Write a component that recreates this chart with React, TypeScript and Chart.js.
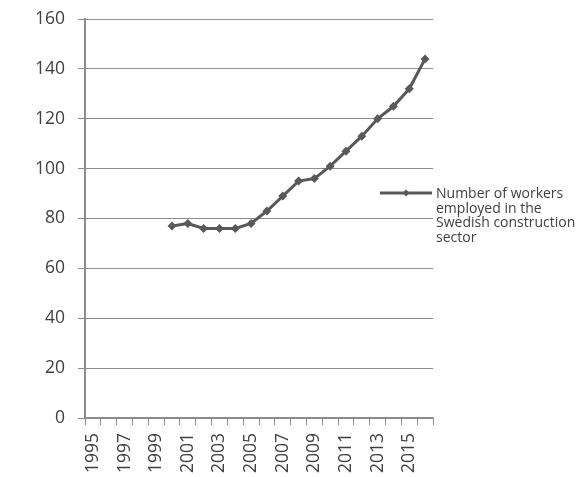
import React, { useEffect, useRef } from "react";
import { Chart, registerables } from "chart.js";

Chart.register(...registerables);

const years: string[] = [
  "1995", "1996", "1997", "1998", "1999", "2000", "2001", "2002", "2003", "2004", "2005",
  "2006", "2007", "2008", "2009", "2010", "2011", "2012", "2013", "2014", "2015", "2016",
];
const workers: (number | null)[] = [
  null, null, null, null, null, 77, 78, 76, 76, 76, 78,
  83, 89, 95, 96, 101, 107, 113, 120, 125, 132, 144,
];
const seriesLabel = "Number of workers employed in the Swedish construction sector";
const legendLines: string[] = ["Number of workers", "employed in the", "Swedish construction", "sector"];

const LINE = "#595959";
const TEXT = "#404040";
const GRID = "#8c8c8c";

const legendPlugin = {
  id: "sideLegend",
  afterDraw(chart: any) {
    const ctx = chart.ctx;
    const y0 = 193;
    ctx.save();
    ctx.strokeStyle = LINE;
    ctx.lineWidth = 3;
    ctx.beginPath();
    ctx.moveTo(380, y0);
    ctx.lineTo(432, y0);
    ctx.stroke();
    ctx.fillStyle = LINE;
    ctx.beginPath();
    const r = 3.5;
    ctx.moveTo(406, y0 - r);
    ctx.lineTo(406 + r, y0);
    ctx.lineTo(406, y0 + r);
    ctx.lineTo(406 - r, y0);
    ctx.closePath();
    ctx.fill();
    ctx.fillStyle = TEXT;
    ctx.font = "14px 'Open Sans'";
    ctx.textAlign = "left";
    ctx.textBaseline = "middle";
    legendLines.forEach((l, i) => {
      ctx.fillText(l, 436, y0 + 1 + i * 14.7);
    });
    ctx.restore();
  },
};

export default function App() {
  const ref = useRef<HTMLCanvasElement>(null);
  useEffect(() => {
    if (!ref.current) return;
    const chart = new Chart(ref.current, {
      type: "line",
      data: {
        labels: years,
        datasets: [
          {
            label: seriesLabel,
            data: workers,
            borderColor: LINE,
            backgroundColor: LINE,
            borderWidth: 3,
            pointStyle: "rectRot",
            pointRadius: 4.5,
            pointBackgroundColor: LINE,
            pointBorderColor: LINE,
            pointBorderWidth: 0,
            tension: 0,
            spanGaps: false,
          },
        ],
      },
      options: {
        responsive: false,
        animation: false,
        devicePixelRatio: 1,
        layout: { padding: { top: 19, right: 150, left: 0, bottom: 0 } },
        plugins: {
          legend: { display: false },
          tooltip: { enabled: false },
        },
        scales: {
          x: {
            type: "category",
            offset: true,
            grid: {
              display: true,
              offset: true,
              drawOnChartArea: false,
              drawTicks: true,
              tickLength: 7,
              color: GRID,
              lineWidth: 1,
            },
            border: { display: true, color: GRID, width: 1.5 },
            ticks: {
              autoSkip: false,
              minRotation: 90,
              maxRotation: 90,
              padding: 8,
              color: TEXT,
              font: { family: "'Open Sans'", size: 17.5 },
              callback: (_v: any, i: number) => (i % 2 === 0 ? years[i] : ""),
            },
            afterFit: (s: any) => {
              s.height = 59;
              s.paddingLeft = 0;
              s.paddingRight = 0;
            },
          },
          y: {
            min: 0,
            max: 160,
            ticks: {
              stepSize: 20,
              padding: 13,
              color: TEXT,
              font: { family: "'Open Sans'", size: 17.5 },
            },
            grid: {
              color: GRID,
              lineWidth: 1,
              drawTicks: true,
              tickLength: 7,
            },
            border: { display: true, color: GRID, width: 2 },
            afterFit: (s: any) => {
              s.width = 85;
              s.paddingTop = 0;
              s.paddingBottom = 0;
            },
          },
        },
      },
      plugins: [legendPlugin],
    });
    return () => chart.destroy();
  }, []);
  return (
    <div style={{ position: "fixed", left: 0, top: 0, width: 583, height: 477, background: "#fff" }}>
      <canvas ref={ref} width={583} height={477} style={{ width: 583, height: 477, display: "block" }} />
    </div>
  );
}
